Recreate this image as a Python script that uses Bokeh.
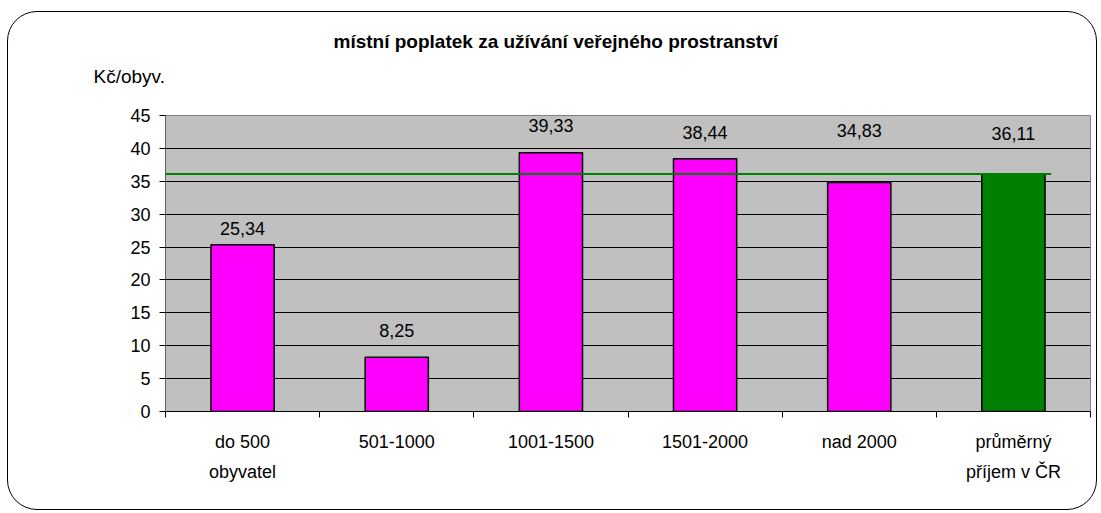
from bokeh.plotting import figure
from bokeh.models import Range1d, FixedTicker, ColumnDataSource, Title
from bokeh.core.properties import value
from bokeh.embed import file_html
from bokeh.resources import INLINE

# ---- data ----
title_text = "místní poplatek za užívání veřejného prostranství"
y_unit = "Kč/obyv."
categories = ["do 500\nobyvatel", "501-1000", "1001-1500", "1501-2000", "nad 2000", "průměrný\npříjem v ČR"]
values = [25.34, 8.25, 39.33, 38.44, 34.83, 36.11]
y_ticks = [0, 5, 10, 15, 20, 25, 30, 35, 40, 45]

# ---- styling / layout ----
FONT = "Liberation Sans"
MAGENTA = "#FF00FF"
GREEN = "#008000"
label_offsets = [-16, -27, -27, -26, -52, -40]  # pixel offsets of value labels

n = len(categories)
positions = [i + 0.5 for i in range(n)]
colors = [MAGENTA] * (n - 1) + [GREEN]
texts = [f"{v:.2f}".replace(".", ",") for v in values]

src = ColumnDataSource(dict(x=positions, top=values, color=colors, text=texts, yoff=label_offsets))

p = figure(width=1090, height=499, output_backend="svg", toolbar_location=None,
           x_range=Range1d(0, n), y_range=Range1d(0, y_ticks[-1]),
           min_border_left=157, min_border_right=8, min_border_top=103, min_border_bottom=100,
           title=title_text)
p.border_fill_color = None
p.background_fill_color = "#C0C0C0"
p.outline_line_color = "#808080"
p.outline_line_width = 1
p.styles = {"border": "1px solid black", "border-radius": "30px",
            "margin-left": "7px", "margin-top": "11px"}

# main title (outermost)
p.title.align = "left"
p.title.offset = 168
p.title.standoff = -34
p.title.text_font = FONT
p.title.text_font_size = "19px"
p.title.text_font_style = "bold"
p.title.text_color = "black"

# unit label (closest to the frame)
p.add_layout(Title(text=y_unit, align="left", offset=-72, standoff=58,
                   text_font=FONT, text_font_size="19px", text_font_style="normal",
                   text_color="black"), "above")

# axes
p.yaxis.ticker = FixedTicker(ticks=y_ticks)
p.yaxis.major_tick_out = 6
p.yaxis.major_tick_in = 0
p.yaxis.minor_tick_out = 0
p.yaxis.minor_tick_in = 0
p.yaxis.major_label_standoff = 9
p.yaxis.axis_line_color = "#606060"
p.yaxis.major_tick_line_color = "black"
p.yaxis.major_label_text_font = FONT
p.yaxis.major_label_text_font_size = "18px"
p.yaxis.major_label_text_color = "black"

p.xaxis.ticker = FixedTicker(ticks=positions, minor_ticks=list(range(n + 1)))
p.xaxis.major_tick_out = 0
p.xaxis.major_tick_in = 0
p.xaxis.minor_tick_out = 6
p.xaxis.minor_tick_in = 0
p.xaxis.minor_tick_line_color = "black"
p.xaxis.axis_line_color = "black"
p.xaxis.major_label_overrides = {pos: lab for pos, lab in zip(positions, categories)}
p.xaxis.major_label_standoff = 14
p.xaxis.major_label_text_font = FONT
p.xaxis.major_label_text_font_size = "18px"
p.xaxis.major_label_text_color = "black"
p.xaxis.major_label_text_line_height = 1.5

p.xgrid.grid_line_color = None
p.ygrid.ticker = FixedTicker(ticks=y_ticks)
p.ygrid.grid_line_color = "black"
p.ygrid.grid_line_width = 1

# bars
p.vbar(x="x", top="top", bottom=0, width=0.41, source=src,
       fill_color="color", line_color="black", line_width=1.5)

# average line
avg = values[-1]
p.segment(x0=[-0.1], y0=[avg], x1=[positions[-1] + 0.245], y1=[avg],
          line_color=GREEN, line_width=2)

# value labels
p.text(x="x", y="top", text="text", source=src, y_offset="yoff",
       text_align="center", text_baseline="middle",
       text_font=value(FONT), text_font_size="18px", text_color="black")

open("out.html", "w").write(file_html(p, INLINE))
